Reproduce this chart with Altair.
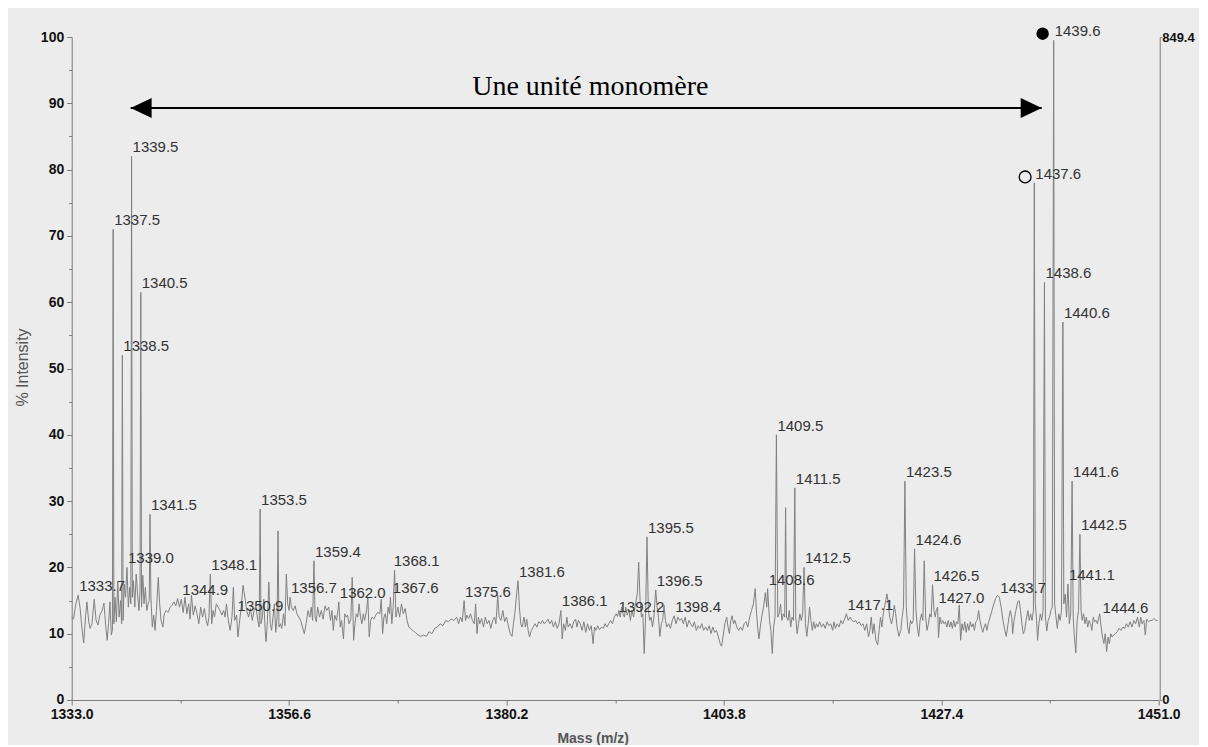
import altair as alt
import pandas as pd

# ---------------- data ----------------
SEG_A = [(1333.0,12.5),(1333.2,12.2),(1333.45,14.5),(1333.7,15.8),(1333.9,14.0),(1334.1,11.0),(1334.3,8.6),(1334.5,12.5),(1334.65,14.8),(1334.85,11.8),(1335.0,10.8),(1335.2,11.5),(1335.45,15.2),(1335.65,12.0),(1335.85,11.3),(1336.05,12.8),(1336.3,13.5),(1336.5,14.6),(1336.7,11.0),(1336.85,9.0),(1337.0,11.5),(1337.15,14.8),(1337.3,9.8),(1337.42,10.5),(1337.5,71.0),(1337.58,11.5),(1337.7,15.5),(1337.85,11.8),(1338.0,17.8),(1338.15,12.5),(1338.3,15.0),(1338.42,11.5),(1338.5,52.0),(1338.58,12.0),(1338.7,17.5),(1338.85,15.5),(1339.0,20.0),(1339.15,14.0),(1339.3,17.0),(1339.42,14.5),(1339.5,82.0),(1339.58,15.5),(1339.7,18.0),(1339.85,14.0),(1340.0,19.0),(1340.15,16.0),(1340.3,13.5),(1340.42,16.5),(1340.5,61.5),(1340.58,14.0),(1340.72,18.8),(1340.85,14.5),(1341.0,17.0),(1341.15,13.5),(1341.3,14.5),(1341.42,15.0),(1341.5,28.0),(1341.6,15.5),(1341.75,11.0),(1341.9,12.8),(1342.05,10.5),(1342.2,13.5),(1342.4,18.5),(1342.55,14.5),(1342.7,12.0),(1342.9,11.0),(1343.05,13.0),(1343.25,13.5),(1343.45,13.2),(1343.7,14.0)]

SEG_B = [(1343.9,14.3),(1344.1,14.8),(1344.3,14.2),(1344.5,15.3),(1344.7,14.0),(1344.9,15.2),(1345.1,13.2),(1345.3,15.5),(1345.5,13.0),(1345.7,14.5),(1345.85,12.2),(1346.0,15.8),(1346.2,12.8),(1346.4,14.2),(1346.6,13.0),(1346.8,11.5),(1347.0,14.0),(1347.2,12.5),(1347.4,13.8),(1347.6,12.0),(1347.75,11.2),(1347.9,12.5),(1348.05,19.0),(1348.2,11.5),(1348.35,13.5),(1348.5,12.5),(1348.7,14.5),(1348.9,14.0),(1349.1,13.5),(1349.3,12.8),(1349.5,13.5),(1349.65,12.5),(1349.8,14.5),(1350.0,12.0),(1350.2,10.5),(1350.4,12.5),(1350.55,17.0),(1350.7,12.0),(1350.9,12.8),(1351.05,9.5),(1351.2,11.5),(1351.4,14.0),(1351.6,17.3),(1351.8,15.5),(1352.0,13.5),(1352.2,12.5),(1352.4,13.8),(1352.6,12.0),(1352.8,13.5),(1353.0,14.2),(1353.2,12.0),(1353.35,11.0),(1353.45,28.8),(1353.55,11.5),(1353.7,12.5),(1353.85,15.2),(1354.0,10.5),(1354.1,8.8),(1354.25,12.0),(1354.4,17.8),(1354.55,11.5),(1354.7,10.5),(1354.85,12.5),(1355.0,14.5),(1355.15,10.2),(1355.3,12.5),(1355.4,25.5),(1355.5,11.0),(1355.65,11.5),(1355.8,10.8),(1356.0,13.0),(1356.15,11.2),(1356.3,19.0),(1356.45,14.5),(1356.6,13.5),(1356.7,15.5),(1356.85,14.0),(1357.05,13.5),(1357.25,14.2),(1357.45,13.0),(1357.65,12.5),(1357.85,12.0),(1358.05,11.0),(1358.25,10.0),(1358.45,11.5),(1358.65,13.5),(1358.85,12.5),(1359.0,14.0),(1359.15,12.0),(1359.3,21.0),(1359.42,12.5),(1359.55,11.8),(1359.7,14.0),(1359.9,12.5),(1360.1,13.5),(1360.3,12.2),(1360.5,14.2),(1360.7,13.5),(1360.9,14.0),(1361.1,12.0),(1361.25,13.5),(1361.4,10.5),(1361.55,12.8),(1361.75,12.0),(1361.9,13.5),(1362.0,14.8),(1362.15,11.0),(1362.3,12.0),(1362.5,9.2),(1362.65,13.0),(1362.8,12.5),(1362.95,12.8),(1363.1,11.5),(1363.3,12.2),(1363.45,18.5),(1363.6,9.0),(1363.75,11.5),(1363.9,13.0),(1364.05,12.5),(1364.2,14.5),(1364.35,12.5),(1364.5,11.5),(1364.65,13.0),(1364.8,12.0),(1365.0,13.5),(1365.15,15.5),(1365.3,9.5),(1365.45,12.0),(1365.6,12.5),(1365.8,12.2),(1366.0,12.8),(1366.2,13.2),(1366.45,13.0),(1366.6,15.2),(1366.75,10.0),(1366.9,12.5),(1367.05,13.0),(1367.2,11.5),(1367.35,14.0),(1367.5,13.0),(1367.6,15.5),(1367.75,11.5),(1367.9,14.0),(1368.05,19.6),(1368.2,12.5),(1368.4,14.0),(1368.6,12.5),(1368.8,14.5)]

SEG_C = [(1369.0,13.0),(1369.2,13.8),(1369.4,12.0),(1369.6,11.0),(1369.8,10.8),(1370.0,10.5),(1370.3,10.2),(1370.6,9.8),(1370.9,9.6),(1371.2,9.8),(1371.5,9.6),(1371.8,10.3),(1372.1,10.0),(1372.4,10.8),(1372.7,11.0),(1373.0,11.5),(1373.3,11.2),(1373.6,12.0),(1373.9,11.8),(1374.2,12.2),(1374.5,12.0),(1374.8,12.5),(1375.0,11.5),(1375.2,12.5),(1375.4,11.8),(1375.6,15.0),(1375.75,12.0),(1375.9,12.8),(1376.1,12.3),(1376.3,13.0),(1376.5,12.0),(1376.7,11.5),(1376.85,14.5),(1377.0,10.0),(1377.15,12.5),(1377.3,11.5),(1377.5,12.3),(1377.7,11.0),(1377.9,12.5),(1378.1,11.5),(1378.3,12.0),(1378.5,10.8),(1378.7,12.0),(1378.9,12.5),(1379.05,11.5),(1379.25,15.8),(1379.4,12.5),(1379.6,12.0),(1379.8,13.5),(1380.0,11.8),(1380.2,12.5),(1380.4,11.2),(1380.6,10.0),(1380.8,9.6),(1380.95,11.5),(1381.1,13.0),(1381.3,16.0),(1381.45,18.0),(1381.6,14.0),(1381.75,11.5),(1381.9,11.0),(1382.1,12.5),(1382.25,11.0),(1382.4,12.2),(1382.55,10.5),(1382.7,9.5),(1382.9,10.5),(1383.1,11.0),(1383.3,11.5),(1383.5,11.0),(1383.7,11.8),(1383.9,11.5),(1384.1,12.0),(1384.3,11.5),(1384.5,11.8),(1384.7,12.2),(1384.9,11.5),(1385.1,12.0),(1385.3,11.0),(1385.5,11.8),(1385.7,10.8),(1385.9,11.5),(1386.1,13.5),(1386.25,9.2),(1386.4,11.5),(1386.6,10.5),(1386.75,12.5),(1386.9,11.0),(1387.1,11.5),(1387.3,10.8),(1387.5,11.8),(1387.7,12.2),(1387.85,11.0),(1388.0,12.0),(1388.2,11.5),(1388.4,10.5),(1388.6,11.8),(1388.8,10.2),(1389.0,11.5),(1389.2,10.5),(1389.4,11.2),(1389.6,8.5),(1389.75,11.0),(1389.9,10.5),(1390.1,11.2),(1390.3,10.6),(1390.5,11.0),(1390.7,10.8),(1390.9,11.5),(1391.1,11.0),(1391.3,11.5),(1391.5,12.0),(1391.7,11.5),(1391.9,12.5)]

SEG_D = [(1392.1,13.0),(1392.25,12.6),(1392.4,13.5),(1392.55,12.5),(1392.7,14.0),(1392.85,13.0),(1393.0,12.5),(1393.15,14.0),(1393.3,12.8),(1393.5,13.5),(1393.65,12.0),(1393.8,13.5),(1394.0,12.5),(1394.2,14.5),(1394.4,16.0),(1394.55,20.8),(1394.7,15.0),(1394.85,12.5),(1395.0,13.0),(1395.15,7.0),(1395.3,12.5),(1395.45,24.6),(1395.6,13.5),(1395.75,12.0),(1395.9,12.5),(1396.05,11.0),(1396.2,12.5),(1396.4,16.6),(1396.55,14.0),(1396.7,12.5),(1396.85,9.6),(1397.0,11.5),(1397.15,12.0),(1397.3,14.3),(1397.45,12.0),(1397.6,11.0),(1397.8,11.5),(1398.0,10.8),(1398.2,12.0),(1398.4,12.7),(1398.6,11.5),(1398.8,12.5),(1399.0,12.0),(1399.2,12.3),(1399.4,11.5),(1399.6,12.5),(1399.8,11.0),(1400.0,12.0),(1400.2,11.5),(1400.4,11.0),(1400.6,11.8),(1400.8,10.5),(1401.0,11.2),(1401.2,10.8),(1401.4,11.5),(1401.6,10.5),(1401.8,11.0),(1402.0,10.5),(1402.2,11.2),(1402.4,10.0),(1402.6,11.0),(1402.8,10.2),(1403.0,10.5),(1403.2,9.5),(1403.4,8.5),(1403.55,8.1),(1403.7,9.5),(1403.9,11.5),(1404.1,12.5),(1404.25,11.0),(1404.4,10.0),(1404.55,12.0),(1404.7,12.7),(1404.85,11.5),(1405.0,12.0),(1405.2,11.0),(1405.4,10.5),(1405.6,11.0),(1405.8,10.5),(1406.0,11.5),(1406.2,11.8),(1406.4,11.0),(1406.6,12.5),(1406.8,13.5),(1407.0,14.5),(1407.2,16.8),(1407.35,13.0),(1407.5,10.5),(1407.6,9.2),(1407.75,11.0),(1407.9,12.5),(1408.1,14.0),(1408.3,16.2),(1408.45,14.0),(1408.55,16.8),(1408.75,12.0),(1408.9,10.5),(1409.05,7.0),(1409.2,11.0),(1409.35,12.5),(1409.5,40.0),(1409.65,12.5),(1409.8,13.0),(1409.95,14.5),(1410.1,12.0),(1410.25,13.0),(1410.4,12.5),(1410.5,29.0),(1410.6,12.5),(1410.75,12.0),(1410.9,13.5),(1411.05,11.0),(1411.2,12.5),(1411.35,12.0),(1411.5,32.0),(1411.6,12.5),(1411.75,10.0),(1411.9,11.5),(1412.05,13.0),(1412.2,12.0),(1412.35,13.0),(1412.5,20.0),(1412.65,11.5),(1412.8,9.6),(1412.95,11.5)]

SEG_E = [(1413.1,14.0),(1413.25,12.0),(1413.4,10.5),(1413.55,11.8),(1413.7,10.8),(1413.85,11.5),(1414.0,11.0),(1414.2,11.8),(1414.4,11.0),(1414.6,11.5),(1414.8,10.8),(1415.0,11.8),(1415.2,11.2),(1415.4,11.5),(1415.6,10.5),(1415.75,11.8),(1415.9,10.8),(1416.1,11.5),(1416.3,11.0),(1416.5,12.0),(1416.7,11.5),(1416.9,12.2),(1417.1,13.0),(1417.3,12.0),(1417.5,12.5),(1417.7,12.0),(1417.9,11.8),(1418.1,12.0),(1418.3,11.5),(1418.5,11.8),(1418.7,11.2),(1418.9,11.5),(1419.1,10.5),(1419.3,11.5),(1419.5,9.5),(1419.65,10.5),(1419.8,12.5),(1419.95,10.0),(1420.1,11.5),(1420.3,9.0),(1420.5,8.3),(1420.65,10.5),(1420.8,12.5),(1420.95,11.0),(1421.1,13.0),(1421.3,14.5),(1421.5,16.0),(1421.65,14.5),(1421.8,12.5),(1422.0,11.5),(1422.15,12.5),(1422.3,14.3),(1422.45,13.0),(1422.6,11.0),(1422.8,9.6),(1423.0,10.5),(1423.15,12.5),(1423.3,14.0),(1423.45,33.0),(1423.6,14.0),(1423.75,11.0),(1423.9,10.0),(1424.05,12.0),(1424.2,11.5),(1424.35,12.0),(1424.5,22.8),(1424.65,13.5),(1424.8,11.0),(1424.95,9.6),(1425.1,12.0),(1425.25,13.0),(1425.4,12.0),(1425.55,21.0),(1425.7,12.5),(1425.85,10.5),(1426.0,11.5),(1426.15,13.0),(1426.3,12.5),(1426.45,17.4),(1426.6,13.5),(1426.75,12.5),(1426.85,13.5),(1427.0,14.0),(1427.1,9.4),(1427.25,12.5),(1427.4,11.5),(1427.55,12.0),(1427.7,11.5),(1427.85,11.8),(1428.0,11.0),(1428.15,12.0),(1428.3,11.0),(1428.45,11.8),(1428.6,10.8),(1428.75,12.0),(1428.9,11.0),(1429.05,11.8),(1429.2,11.5),(1429.35,14.3),(1429.5,9.0),(1429.65,11.5),(1429.8,10.5),(1429.95,11.8),(1430.1,10.2),(1430.25,11.5),(1430.4,10.5),(1430.55,11.8),(1430.7,11.0),(1430.85,11.5),(1431.0,10.5),(1431.15,11.8),(1431.3,12.0),(1431.45,13.5),(1431.6,12.0),(1431.75,11.0),(1431.9,10.2),(1432.05,11.0),(1432.2,11.5),(1432.35,10.5),(1432.5,11.5),(1432.7,12.5),(1432.9,13.5),(1433.1,14.5),(1433.3,15.3),(1433.5,15.8),(1433.7,15.5),(1433.9,14.0),(1434.1,12.0),(1434.3,10.5),(1434.45,9.6),(1434.6,11.0),(1434.75,12.5),(1434.9,13.5),(1435.05,12.5),(1435.15,10.0),(1435.3,12.0),(1435.5,13.5),(1435.7,14.8),(1435.85,15.0),(1436.0,13.5),(1436.15,11.5),(1436.3,10.0),(1436.45,10.5),(1436.6,12.0),(1436.8,13.5),(1436.95,12.0),(1437.1,13.0),(1437.25,12.0),(1437.4,13.5),(1437.5,78.0),(1437.6,14.5),(1437.75,12.0),(1437.85,9.0),(1438.0,11.5),(1438.15,13.0),(1438.3,12.0),(1438.45,13.5),(1438.6,63.0),(1438.7,12.5),(1438.85,10.4),(1439.0,12.0),(1439.15,12.5),(1439.3,13.5),(1439.45,14.0),(1439.6,99.5),(1439.7,14.5),(1439.85,12.5),(1440.0,10.8),(1440.15,13.0),(1440.3,12.0),(1440.45,13.5),(1440.6,57.0),(1440.7,14.5),(1440.85,16.0),(1441.0,12.5),(1441.15,17.5),(1441.3,11.5),(1441.45,13.0),(1441.6,33.0),(1441.72,12.5),(1441.85,9.5),(1442.0,7.1),(1442.15,12.0),(1442.3,13.5),(1442.45,25.0),(1442.57,13.5),(1442.7,12.0),(1442.85,13.0),(1443.0,11.5),(1443.15,12.5),(1443.3,11.0),(1443.45,12.0),(1443.6,11.5),(1443.75,10.5),(1443.9,12.5),(1444.05,11.8),(1444.2,12.0),(1444.35,11.5),(1444.5,12.5),(1444.6,13.0),(1444.75,11.0),(1444.9,9.5),(1445.05,8.5),(1445.2,10.0),(1445.35,7.3),(1445.5,9.5),(1445.65,8.5),(1445.8,10.0),(1445.95,9.5),(1446.1,9.8),(1446.3,10.0),(1446.5,10.3),(1446.7,10.8),(1446.9,10.5),(1447.1,11.0),(1447.3,10.8),(1447.5,11.5),(1447.7,11.0),(1447.9,11.8),(1448.1,11.0),(1448.3,12.0),(1448.5,11.5),(1448.7,12.5),(1448.9,11.0),(1449.05,12.5),(1449.2,11.5),(1449.4,12.0),(1449.55,9.8),(1449.7,12.2),(1449.9,11.8),(1450.1,12.0),(1450.3,12.0),(1450.5,12.3),(1450.7,12.0),(1450.9,12.0)]

LABEL_TEXT = ["1333.7", "1337.5", "1338.5", "1339.5", "1340.5", "1341.5", "1339.0",
              "1344.9", "1348.1", "1350.9", "1353.5", "1356.7", "1359.4", "1362.0",
              "1367.6", "1368.1", "1375.6", "1381.6", "1386.1", "1392.2", "1395.5",
              "1396.5", "1398.4", "1408.6", "1409.5", "1411.5", "1412.5", "1417.1",
              "1423.5", "1424.6", "1426.5", "1427.0", "1433.7", "1437.6", "1438.6",
              "1439.6", "1440.6", "1441.6", "1441.1", "1442.5", "1444.6"]
LABEL_MASS = [1333.7, 1337.5, 1338.5, 1339.5, 1340.5, 1341.5, 1339.0,
              1344.9, 1348.05, 1350.9, 1353.45, 1356.7, 1359.3, 1362.0,
              1367.75, 1367.85, 1375.6, 1381.45, 1386.1, 1392.25, 1395.45,
              1396.4, 1398.4, 1408.55, 1409.5, 1411.5, 1412.5, 1417.1,
              1423.45, 1424.5, 1426.45, 1427.0, 1433.7, 1437.5, 1438.6,
              1439.6, 1440.6, 1441.6, 1441.15, 1442.45, 1444.8]
LABEL_INT = [15.8, 71.0, 52.0, 82.0, 61.5, 28.0, 20.0,
             15.2, 19.0, 12.8, 28.8, 15.5, 21.0, 14.8,
             15.5, 19.6, 15.0, 18.0, 13.5, 12.6, 24.6,
             16.6, 12.7, 16.8, 40.0, 32.0, 20.0, 13.0,
             33.0, 22.8, 17.4, 14.0, 15.5, 78.0, 63.0,
             99.5, 57.0, 33.0, 17.5, 25.0, 12.5]

X_MAJOR = [1333.0, 1356.6, 1380.2, 1403.8, 1427.4, 1451.0]
X_MINOR = [1344.8, 1368.4, 1392.0, 1415.6, 1439.2]
Y_TICKS = [0, 5, 10, 15, 20, 25, 30, 35, 40, 45, 50, 55, 60, 65, 70, 75, 80, 85, 90, 95, 100]
RIGHT_TICKS = [0, 849.4]

ARROW_Y = 89.3
ARROW_LEFT = 1339.4
ARROW_RIGHT = 1438.3
ARROW_TEXT = "Une unité monomère"
ARROW_TEXT_MASS = 1389.3
ARROW_TEXT_INT = 91.3
FILLED_MARK = (1438.4, 100.5)
OPEN_MARK = (1436.5, 78.9)

# ---------------- tables ----------------
trace_df = pd.DataFrame(SEG_A + SEG_B + SEG_C + SEG_D + SEG_E, columns=["mass", "intensity"])
label_df = pd.DataFrame({"mass": LABEL_MASS, "intensity": LABEL_INT, "label": LABEL_TEXT})
arrow_df = pd.DataFrame({"mass": [ARROW_LEFT], "mass2": [ARROW_RIGHT], "intensity": [ARROW_Y]})
head_l_df = pd.DataFrame({"mass": [ARROW_LEFT], "intensity": [ARROW_Y]})
head_r_df = pd.DataFrame({"mass": [ARROW_RIGHT], "intensity": [ARROW_Y]})
text_df = pd.DataFrame({"mass": [ARROW_TEXT_MASS], "intensity": [ARROW_TEXT_INT], "label": [ARROW_TEXT]})
filled_df = pd.DataFrame({"mass": [FILLED_MARK[0]], "intensity": [FILLED_MARK[1]]})
open_df = pd.DataFrame({"mass": [OPEN_MARK[0]], "intensity": [OPEN_MARK[1]]})
right_df = pd.DataFrame({"r": RIGHT_TICKS})

FONT = "Liberation Sans"
AX_COLOR = "#7a7a7a"

major_list = ",".join(str(v) for v in X_MAJOR)
x_axis = alt.Axis(
    values=sorted(X_MAJOR + X_MINOR),
    labelExpr=f"indexof([{major_list}], datum.value) >= 0 ? format(datum.value, '.1f') : ''",
    tickSize={"condition": {"test": f"indexof([{major_list}], datum.value) >= 0", "value": 5}, "value": 3},
    labelFont=FONT, labelFontSize=14, labelFontWeight="bold", labelColor="#111",
    labelPadding=3, labelFlush=False, labelOverlap=False,
    domainColor=AX_COLOR, tickColor=AX_COLOR, grid=False,
    title="Mass (m/z)", titleFont=FONT, titleFontSize=14, titleFontWeight="bold",
    titleColor="#555", titleX=521, titleY=43, titleAlign="center", titleBaseline="alphabetic",
)
y_axis = alt.Axis(
    values=Y_TICKS,
    labelExpr="datum.value % 10 === 0 ? format(datum.value, 'd') : ''",
    tickSize={"condition": {"test": "datum.value % 10 === 0", "value": 5}, "value": 3},
    labelFont=FONT, labelFontSize=14, labelFontWeight="bold", labelColor="#111",
    labelPadding=3, labelFlush=False, labelOverlap=False,
    domainColor=AX_COLOR, tickColor=AX_COLOR, grid=False,
    title="% Intensity", titleFont=FONT, titleFontSize=16, titleFontWeight="normal",
    titleColor="#555", titleX=-44, titleY=330, titleAngle=270, titleAlign="center",
    titleBaseline="alphabetic",
)

X_ENC = alt.X("mass:Q", scale=alt.Scale(domain=[1333.0, 1451.0], nice=False, zero=False), axis=x_axis)
Y_ENC = alt.Y("intensity:Q", scale=alt.Scale(domain=[0, 100], nice=False, zero=True), axis=y_axis)

line = alt.Chart(trace_df).mark_line(color="#808080", strokeWidth=1).encode(x=X_ENC, y=Y_ENC)

labels = alt.Chart(label_df).mark_text(
    align="left", baseline="alphabetic", dx=1, dy=-4, font=FONT, fontSize=15, color="#333"
).encode(x=X_ENC, y=Y_ENC, text="label:N")

arrow = alt.Chart(arrow_df).mark_rule(color="black", strokeWidth=2).encode(
    x=X_ENC, x2="mass2:Q", y=Y_ENC)

head_l = alt.Chart(head_l_df).mark_point(
    shape="M 0 0 L 2 -0.95 L 2 0.95 Z", filled=True, size=441, color="black", opacity=1
).encode(x=X_ENC, y=Y_ENC)
head_r = alt.Chart(head_r_df).mark_point(
    shape="M 0 0 L -2 -0.95 L -2 0.95 Z", filled=True, size=441, color="black", opacity=1
).encode(x=X_ENC, y=Y_ENC)

arrow_text = alt.Chart(text_df).mark_text(
    align="center", baseline="alphabetic", font="Liberation Serif", fontSize=28, color="black"
).encode(x=X_ENC, y=Y_ENC, text="label:N")

filled_pt = alt.Chart(filled_df).mark_point(
    shape="circle", filled=True, size=154, color="black", opacity=1
).encode(x=X_ENC, y=Y_ENC)
open_pt = alt.Chart(open_df).mark_point(
    shape="circle", filled=False, size=140, color="black", strokeWidth=1.3, opacity=1
).encode(x=X_ENC, y=Y_ENC)

main = alt.layer(line, labels, arrow, head_l, head_r, arrow_text, filled_pt, open_pt)

right_axis = alt.Chart(right_df).mark_point(opacity=0).encode(
    x=alt.value(0),
    y=alt.Y("r:Q", scale=alt.Scale(domain=[0, 849.4], nice=False, zero=True),
            axis=alt.Axis(orient="right", values=RIGHT_TICKS,
                          labelExpr="datum.value == 0 ? '0' : format(datum.value, '.1f')",
                          labelFont=FONT, labelFontSize=13, labelFontWeight="bold",
                          labelColor="#111", labelPadding=0, labelFlush=False,
                          tickSize=2, offset=1, domainColor=AX_COLOR, tickColor=AX_COLOR,
                          grid=False, title=None)),
)

chart = alt.layer(main, right_axis).resolve_scale(y="independent").properties(
    width=1087, height=663,
    autosize=alt.AutoSizeParams(type="none"),
    padding={"left": 63.7, "top": 29, "right": 40, "bottom": 45},
    background="#ececec",
).configure_view(stroke=None)

chart.save("out.html", embed_options={"renderer": "svg", "actions": False})
